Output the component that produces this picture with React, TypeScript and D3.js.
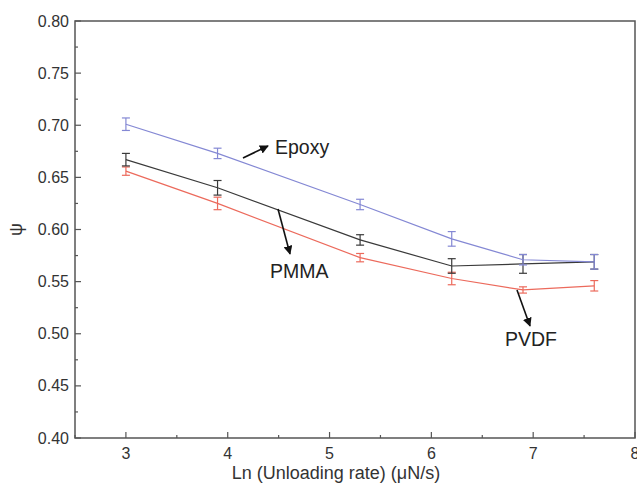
import React from "react";
import * as d3 from "d3";

// ln of unloading rate (µN/s)
const lnRate = [3.0, 3.9, 5.3, 6.2, 6.9, 7.6];

const epoxy = [0.701, 0.673, 0.624, 0.591, 0.571, 0.569];
const epoxyErr = [0.006, 0.005, 0.005, 0.007, 0.005, 0.007];

const pmma = [0.667, 0.640, 0.590, 0.565, 0.567, 0.569];
const pmmaErr = [0.006, 0.007, 0.005, 0.007, 0.009, 0.007];

const pvdf = [0.656, 0.625, 0.573, 0.553, 0.542, 0.546];
const pvdfErr = [0.004, 0.006, 0.004, 0.006, 0.003, 0.005];

const xTicks = [3, 4, 5, 6, 7, 8];
const yTicks = [0.4, 0.45, 0.5, 0.55, 0.6, 0.65, 0.7, 0.75, 0.8];

const W = 637;
const H = 485;
const M = { left: 75, right: 2, top: 21, bottom: 47 };

const x = d3.scaleLinear().domain([2.5, 8]).range([M.left, W - M.right]);
const y = d3.scaleLinear().domain([0.4, 0.8]).range([H - M.bottom, M.top]);

const series = [
  { name: "PVDF", values: pvdf, err: pvdfErr, color: "#ec6a5c" },
  { name: "PMMA", values: pmma, err: pmmaErr, color: "#3a3a3a" },
  { name: "Epoxy", values: epoxy, err: epoxyErr, color: "#8488d4" },
];

const font = "Arial, 'Liberation Sans', sans-serif";
const axisColor = "#555";

export default function App() {
  const line = d3
    .line<number>()
    .x((_, i) => x(lnRate[i]))
    .y((v) => y(v));

  const xMinor = d3.range(2.5, 8.01, 0.5).filter((v) => !xTicks.includes(v));
  const yMinor = d3.range(0.425, 0.8, 0.05);

  const x0 = x.range()[0];
  const x1 = x.range()[1];
  const y0 = y.range()[0];
  const y1 = y.range()[1];

  return (
    <svg
      width={W}
      height={H}
      style={{ position: "absolute", left: 0, top: 0, background: "#fff" }}
      fontFamily={font}
    >
      <defs>
        <marker
          id="arrowHead"
          viewBox="0 0 10 10"
          refX="9"
          refY="5"
          markerWidth="9"
          markerHeight="9"
          markerUnits="userSpaceOnUse"
          orient="auto"
        >
          <path d="M0,0 L10,5 L0,10 Z" fill="#111" />
        </marker>
      </defs>

      {/* frame */}
      <rect
        x={x0}
        y={y1}
        width={x1 - x0}
        height={y0 - y1}
        fill="none"
        stroke={axisColor}
        strokeWidth={1.5}
      />

      {/* x ticks */}
      {xTicks.map((t) => (
        <g key={"xt" + t}>
          <line x1={x(t)} x2={x(t)} y1={y0} y2={y0 - 6} stroke={axisColor} strokeWidth={1.2} />
          <text x={x(t)} y={y0 + 21} textAnchor="middle" fontSize={16} fill="#333">
            {t}
          </text>
        </g>
      ))}
      {xMinor.map((t) => (
        <line key={"xm" + t} x1={x(t)} x2={x(t)} y1={y0} y2={y0 - 3} stroke={axisColor} strokeWidth={1.2} />
      ))}

      {/* y ticks */}
      {yTicks.map((t) => (
        <g key={"yt" + t}>
          <line x1={x0} x2={x0 + 6} y1={y(t)} y2={y(t)} stroke={axisColor} strokeWidth={1.2} />
          <text x={x0 - 6} y={y(t) + 5.5} textAnchor="end" fontSize={16} fill="#333">
            {t.toFixed(2)}
          </text>
        </g>
      ))}
      {yMinor.map((t) => (
        <line key={"ym" + t} x1={x0} x2={x0 + 3} y1={y(t)} y2={y(t)} stroke={axisColor} strokeWidth={1.2} />
      ))}

      {/* axis titles */}
      <text x={336} y={479} textAnchor="middle" fontSize={18} fill="#333">
        Ln (Unloading rate) (μN/s)
      </text>
      <text
        transform={`translate(22, ${(y0 + y1) / 2}) rotate(-90)`}
        textAnchor="middle"
        fontSize={18}
        fill="#333"
      >
        ψ
      </text>

      {/* series */}
      {series.map((s) => (
        <g key={s.name}>
          <path d={line(s.values) || ""} fill="none" stroke={s.color} strokeWidth={1.2} />
          {s.values.map((v, i) => {
            const cx = x(lnRate[i]);
            const top = y(v + s.err[i]);
            const bot = y(v - s.err[i]);
            return (
              <g key={i} stroke={s.color} strokeWidth={1.2}>
                <line x1={cx} x2={cx} y1={top} y2={bot} />
                <line x1={cx - 4} x2={cx + 4} y1={top} y2={top} />
                <line x1={cx - 4} x2={cx + 4} y1={bot} y2={bot} />
              </g>
            );
          })}
        </g>
      ))}

      {/* annotations */}
      <line x1={243} y1={158} x2={268} y2={146} stroke="#111" strokeWidth={1.6} markerEnd="url(#arrowHead)" />
      <text x={275} y={154} fontSize={19.5} fill="#222">Epoxy</text>

      <line x1={278} y1={209} x2={290} y2={254} stroke="#111" strokeWidth={1.6} markerEnd="url(#arrowHead)" />
      <text x={270} y={278} fontSize={19.5} fill="#222">PMMA</text>

      <line x1={517} y1={290} x2={530} y2={326} stroke="#111" strokeWidth={1.6} markerEnd="url(#arrowHead)" />
      <text x={505} y={346} fontSize={19.5} fill="#222">PVDF</text>
    </svg>
  );
}
